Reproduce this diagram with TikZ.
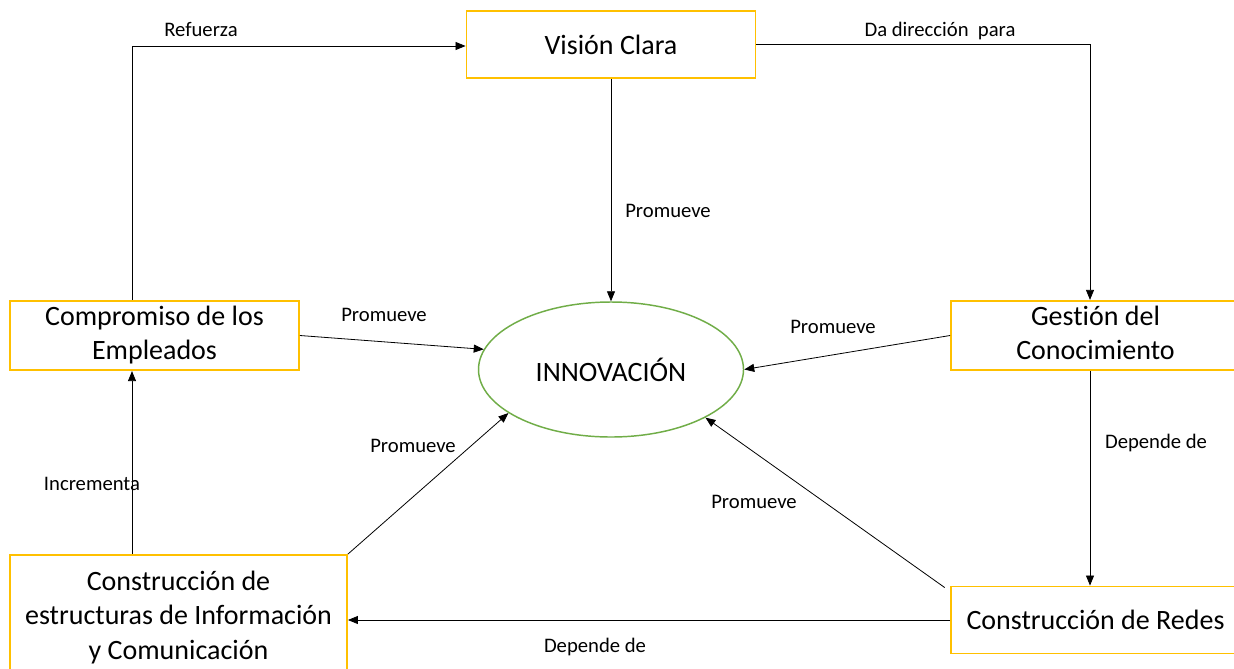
\documentclass[tikz,border=0pt]{standalone}
\usepackage{fontspec}
\setmainfont{Carlito}[Ligatures=NoCommon]
\usetikzlibrary{arrows.meta,shapes.geometric}
\definecolor{boxgold}{HTML}{FFC000}
\definecolor{ellgreen}{HTML}{70AD47}
\newcommand{\twolines}[2]{\raisebox{-2pt}{\begin{tabular}{@{}c@{}}#1\\#2\end{tabular}}}
\tikzset{
  box/.style={draw=boxgold, line width=1.4pt, fill=white, inner sep=0pt, align=center,
    font=\fontsize{21}{26}\selectfont},
  arr/.style={draw=black, line width=0.6pt, -{Triangle[length=7.5pt,width=6pt]}},
  lbl/.style={font=\fontsize{15.5}{18}\selectfont, inner sep=0pt}
}
\begin{document}
\begin{tikzpicture}[x=0.75pt,y=-0.75pt]
\useasboundingbox (0,0) rectangle (1234,668);
\clip (0,0) rectangle (1234,668);
\fill[white] (0,0) rectangle (1234,668);
% boxes
\node[box, minimum width=289*0.75pt, minimum height=67*0.75pt] (vision) at (611,44.5) {Visión Clara};
\node[box, minimum width=289*0.75pt, minimum height=67*0.75pt] (compromiso) at (154.5,335.5) {\twolines{Compromiso de los}{Empleados}};
\node[box, minimum width=289*0.75pt, minimum height=67*0.75pt] (gestion) at (1095.5,335.5) {\twolines{Gestión del}{Conocimiento}};
\node[box, minimum width=289*0.75pt, minimum height=67*0.75pt] (redes) at (1095.5,620) {Construcción de Redes};
\node[box, minimum width=337*0.75pt, minimum height=125*0.75pt] (estructuras) at (178.5,617.5) {Construcción de\\estructuras de Información\\y Comunicación};
\node[draw=ellgreen, line width=1.1pt, ellipse, minimum width=265*0.75pt, minimum height=135*0.75pt, inner sep=0pt,
  font=\fontsize{21}{26}\selectfont] (innov) at (611,369.5) {INNOVACIÓN};
% helper coordinates
\coordinate (xl) at (132,0);
\coordinate (xr) at (1090,0);
\coordinate (ytop) at (0,46);
% connectors
\draw[arr] (compromiso.north -| xl) -- (xl |- ytop) -- (vision.west |- ytop);
\draw[arr] (vision.east) -- (vision.east -| xr) -- (gestion.north -| xr);
\draw[arr] (vision.south) -- (innov.north);
\draw[arr] (compromiso.east) -- (innov.171.5);
\draw[arr] (gestion.west) -- (innov.east);
\draw[arr] (estructuras.north east) -- (innov.203.6);
\draw[arr] ([xshift=-4pt,yshift=-1.5pt]redes.north west) -- (innov.333.3);
\draw[arr] (gestion.south -| xr) -- (redes.north -| xr);
\draw[arr] (redes.west) -- (redes.west -| estructuras.east);
\draw[arr] (estructuras.north -| xl) -- (compromiso.south -| xl);
% labels
\node[lbl] (l1) at (201,29) {Refuerza};
\node[lbl] (l2) at (940,31) {Da dirección\ \ para};
\node[lbl] (l3) at (668,211) {Promueve};
\node[lbl] (l4) at (384,315) {Promueve};
\node[lbl] (l5) at (833,327) {Promueve};
\node[lbl] (l6) at (413,446) {Promueve};
\node[lbl] (l7) at (754,502) {Promueve};
\node[lbl] (l8) at (1156,443) {Depende de};
\node[lbl] (l9) at (595,647) {Depende de};
\node[lbl] (l10) at (92,484) {Incrementa};
\end{tikzpicture}
\end{document}
